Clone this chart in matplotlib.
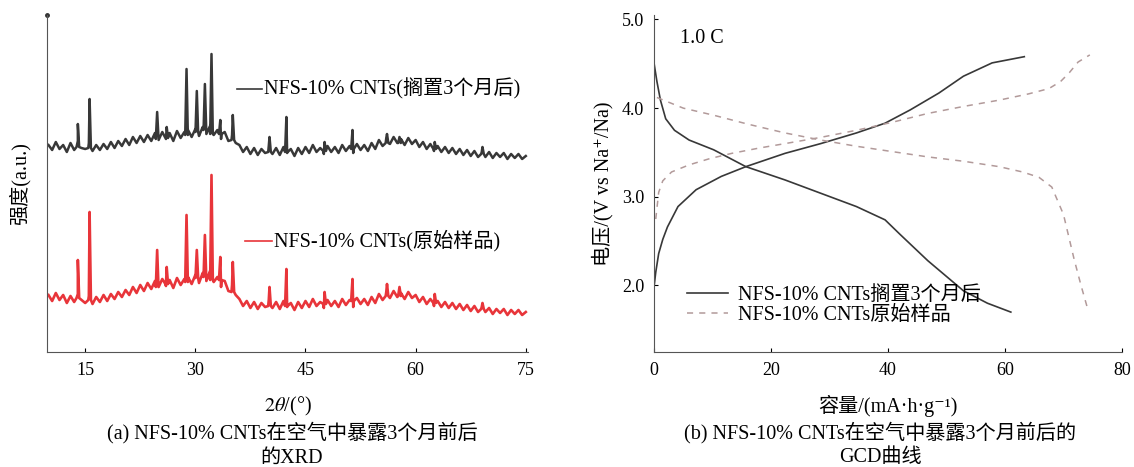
import numpy as np
import matplotlib
matplotlib.use("Agg")
import matplotlib.pyplot as plt

plt.rcParams['font.family'] = ['Liberation Serif', 'Noto Sans CJK SC', 'DejaVu Serif']
plt.rcParams['mathtext.fontset'] = 'stix'

# ---------------- (a) XRD ----------------
# 2θ 采样点: 10°~75°, 步长 0.5°
xrd_step = 0.5
xrd_start = 10.0

# 搁置3个月后 (黑) 基线强度, 读图 (a.u.)
black_base = [
    207, 202, 210, 203, 207, 200, 209, 202, 211, 204,
    203, 209, 201, 207, 202, 208, 203, 210, 204, 211,
    206, 213, 207, 215, 209, 216, 210, 217, 211, 219,
    212, 220, 213, 219, 211, 221, 214, 220, 222, 215,
    223, 216, 225, 218, 226, 217, 222, 213, 220, 211,
    217, 209, 207, 200, 205, 198, 204, 197, 203, 199,
    206, 198, 204, 197, 205, 199, 203, 196, 204, 198,
    205, 199, 207, 200, 204, 198, 206, 200, 205, 199,
    207, 201, 206, 199, 208, 202, 207, 201, 209, 203,
    212, 206, 214, 208, 215, 209, 213, 207, 214, 208,
    212, 205, 210, 203, 208, 201, 206, 200, 205, 199,
    204, 198, 203, 197, 202, 196, 201, 195, 200, 195,
    200, 194, 199, 195, 199, 193, 198, 194, 198, 193,
    196,
]
# 原始样品 (红) 基线强度
red_base = [
    57, 51, 59, 52, 57, 49, 56, 50, 58, 52,
    49, 56, 48, 55, 50, 57, 51, 58, 53, 60,
    55, 62, 57, 65, 59, 67, 61, 69, 63, 71,
    65, 73, 66, 72, 64, 74, 67, 73, 75, 68,
    77, 69, 79, 71, 81, 70, 75, 65, 71, 61,
    67, 57, 53, 46, 51, 44, 50, 43, 49, 45,
    52, 44, 50, 43, 51, 45, 49, 42, 50, 44,
    51, 45, 53, 46, 50, 44, 52, 46, 51, 45,
    53, 47, 52, 45, 54, 48, 53, 47, 55, 49,
    58, 52, 60, 54, 61, 55, 59, 53, 60, 54,
    57, 50, 55, 48, 53, 46, 51, 45, 50, 44,
    49, 43, 48, 42, 47, 41, 46, 40, 45, 40,
    44, 38, 43, 39, 43, 37, 42, 38, 42, 37,
    40,
]
# 衍射峰: 位置, 峰顶强度, 峰脚强度
peak_pos   = [14.0, 15.6, 24.8, 26.1, 28.8, 30.2, 31.3, 32.2, 33.4, 35.1,
              40.1, 42.4, 47.6, 51.4, 56.1, 57.8, 62.6, 69.1]
peak_black = [228, 253, 240, 225, 283, 261, 268, 298, 232, 237,
              215, 235, 210, 222, 218, 215, 210, 205]
foot_black = [205, 204, 213, 214, 217, 220, 222, 218, 218, 212,
              200, 200, 201, 203, 209, 209, 203, 198]
peak_red   = [92, 140, 102, 85, 137, 102, 117, 177, 95, 90,
              65, 83, 60, 73, 68, 65, 58, 49]
foot_red   = [54, 52, 65, 68, 70, 74, 75, 72, 72, 60,
              46, 46, 48, 51, 56, 56, 49, 43]

# ---------------- (b) GCD ----------------
after_dis_cap = [0, 0.5, 1.1, 2.0, 3.5, 6.0, 10.2, 15.7, 22.4, 28.5, 34.6,
                 39.5, 42.0, 46.8, 52.9, 57.0, 61.0]
after_dis_v = [4.51, 4.30, 4.09, 3.88, 3.75, 3.64, 3.53, 3.34, 3.19, 3.04, 2.89,
               2.74, 2.58, 2.28, 1.94, 1.80, 1.70]
after_chg_cap = [0, 0.3, 0.8, 1.5, 2.3, 4.1, 7.2, 11.5, 15.7, 22.4, 28.5, 34.6,
                 39.5, 43.8, 48.7, 52.9, 57.8, 63.3]
after_chg_v = [1.98, 2.15, 2.36, 2.52, 2.66, 2.89, 3.08, 3.23, 3.34, 3.49, 3.60,
               3.72, 3.83, 3.98, 4.17, 4.36, 4.51, 4.58]
pristine_dis_cap = [0.5, 5.0, 10.2, 16.0, 22.4, 28.5, 34.6, 40.7, 46.8, 53.0,
                    59.0, 63.0, 65.8, 68.0, 70.0, 71.8, 73.0, 74.2]
pristine_dis_v = [4.12, 4.00, 3.92, 3.82, 3.72, 3.64, 3.57, 3.51, 3.45, 3.40,
                  3.34, 3.28, 3.22, 3.11, 2.80, 2.30, 2.00, 1.72]
pristine_chg_cap = [0.3, 0.8, 1.5, 3.0, 6.0, 9.5, 13.3, 18.0, 22.4, 28.5, 34.6,
                    40.7, 46.8, 53.0, 59.0, 64.0, 67.5, 69.5, 71.0, 72.5, 74.5]
pristine_chg_v = [2.75, 3.05, 3.18, 3.28, 3.36, 3.43, 3.49, 3.55, 3.60, 3.67, 3.75,
                  3.84, 3.94, 4.02, 4.09, 4.16, 4.22, 4.30, 4.40, 4.52, 4.60]

C_BLACK = "#383838"
C_RED = "#e8353a"
C_DASH = "#b29a9a"
FS_TICK = 13
FS = 14.5

W, H = 1134, 467
fig = plt.figure(figsize=(W / 100, H / 100), dpi=100)


def box(x0, y0, x1, y1):
    return [x0 / W, 1 - y1 / H, (x1 - x0) / W, (y1 - y0) / H]


def trace(base, pk_h, pk_foot):
    grid = xrd_start + xrd_step * np.arange(len(base))
    pos = np.array(peak_pos)
    x = np.concatenate([grid, pos - 0.18, pos, pos + 0.18])
    y = np.concatenate([base, pk_foot, pk_h, pk_foot])
    order = np.argsort(x, kind='stable')
    return x[order], y[order]


# ---------------- panel (a) ----------------
ax1 = fig.add_axes(box(47, 15, 528, 352))
xb, yb = trace(black_base, peak_black, foot_black)
xr, yr = trace(red_base, peak_red, foot_red)
ax1.plot(xb, yb, color=C_BLACK, lw=1.8)
ax1.plot(xr, yr, color=C_RED, lw=1.9)
ax1.set_xlim(9.8, 75.3)
ax1.set_ylim(0, 337)
ax1.set_xticks([15, 30, 45, 60, 75])
ax1.set_yticks([])
ax1.tick_params(axis='x', direction='in', length=3, labelsize=FS_TICK, pad=7)
for s in ['top', 'right']:
    ax1.spines[s].set_visible(False)
for s in ['left', 'bottom']:
    ax1.spines[s].set_color("#555555")
ax1.plot([0], [1], marker='.', ms=5, color="#333333",
         transform=ax1.transAxes, clip_on=False)
ax1.set_ylabel("强度(a.u.)", fontsize=FS, labelpad=12)
ax1.set_xlabel(r"$2\theta$/(°)", fontsize=FS, labelpad=12)

# 曲线标注
ax1.plot([0.395, 0.447], [0.78, 0.78], color=C_BLACK, lw=1.2,
         transform=ax1.transAxes)
ax1.text(0.452, 0.78, "NFS-10% CNTs(搁置3个月后)", transform=ax1.transAxes,
         fontsize=FS, va='center', ha='left', clip_on=False)
ax1.plot([0.412, 0.468], [0.33, 0.33], color=C_RED, lw=1.2,
         transform=ax1.transAxes)
ax1.text(0.472, 0.33, "NFS-10% CNTs(原始样品)", transform=ax1.transAxes,
         fontsize=FS, va='center', ha='left', clip_on=False)

# ---------------- panel (b) ----------------
ax2 = fig.add_axes(box(654, 15, 1122, 352))
ax2.plot(after_dis_cap, after_dis_v, color=C_BLACK, lw=1.2,
         label="NFS-10% CNTs搁置3个月后")
ax2.plot(after_chg_cap, after_chg_v, color=C_BLACK, lw=1.2)
ax2.plot(pristine_dis_cap, pristine_dis_v, color=C_DASH, lw=1.1,
         ls=(0, (4, 4)), label="NFS-10% CNTs原始样品")
ax2.plot(pristine_chg_cap, pristine_chg_v, color=C_DASH, lw=1.1,
         ls=(0, (4, 4)))
ax2.set_xlim(0, 80)
ax2.set_ylim(1.25, 5.05)
ax2.set_xticks([0, 20, 40, 60, 80])
ax2.set_yticks([2.0, 3.0, 4.0, 5.0])
ax2.set_yticklabels(["2.0", "3.0", "4.0", "5.0"])
ax2.tick_params(direction='in', length=3, labelsize=FS_TICK, pad=7)
for s in ['top', 'right']:
    ax2.spines[s].set_visible(False)
for s in ['left', 'bottom']:
    ax2.spines[s].set_color("#555555")
ax2.text(0.055, 0.93, "1.0 C", transform=ax2.transAxes, fontsize=FS,
         va='center', ha='left')
ax2.set_ylabel("电压/(V vs Na⁺/Na)", fontsize=FS, labelpad=6)
ax2.set_xlabel("容量/(mA·h·g⁻¹)", fontsize=FS, labelpad=12)
ax2.legend(loc='lower left', bbox_to_anchor=(0.05, 0.05), frameon=False,
           fontsize=FS, handlelength=2.0, handletextpad=0.5,
           labelspacing=0.05, borderpad=0)

# ---------------- captions ----------------
fig.text(292 / W, 1 - 433 / H, "(a) NFS-10% CNTs在空气中暴露3个月前后",
         ha='center', va='center', fontsize=FS)
fig.text(292 / W, 1 - 458 / H, "的XRD",
         ha='center', va='center', fontsize=FS)
fig.text(880 / W, 1 - 433 / H, "(b) NFS-10% CNTs在空气中暴露3个月前后的",
         ha='center', va='center', fontsize=FS)
fig.text(880 / W, 1 - 458 / H, "GCD曲线",
         ha='center', va='center', fontsize=FS)

fig.savefig("out.png", dpi=100)
